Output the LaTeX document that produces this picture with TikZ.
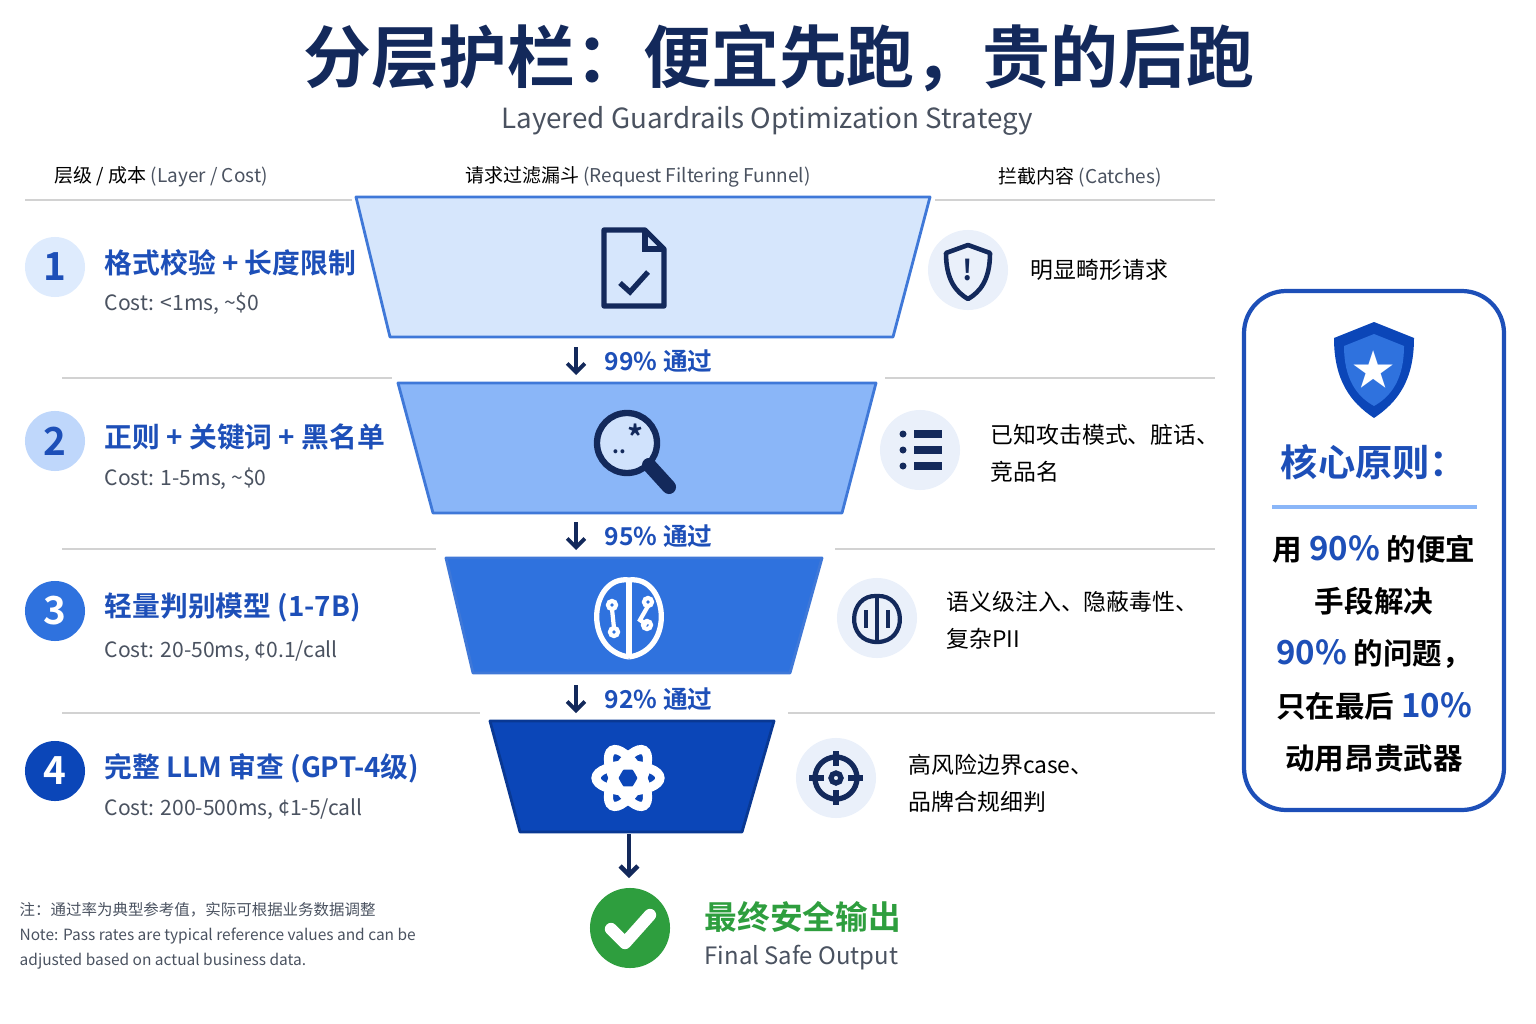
\documentclass[tikz,border=0pt]{standalone}
\usepackage{fontspec}
\setmainfont{Noto Sans CJK SC}[BoldFont={Noto Sans CJK SC Bold}]
\usetikzlibrary{arrows.meta,positioning}
\definecolor{navy}{HTML}{13295B}
\definecolor{tblue}{HTML}{1D4FB8}
\definecolor{gtext}{HTML}{4A5260}
\definecolor{f1}{HTML}{D6E6FC}
\definecolor{f2}{HTML}{8AB6F8}
\definecolor{f3}{HTML}{2F72DE}
\definecolor{f4}{HTML}{0B46B8}
\definecolor{edge}{HTML}{3F78D8}
\definecolor{iconbg}{HTML}{EAF0FA}
\definecolor{okgreen}{HTML}{2E9E3E}
\tikzset{
  layertitle/.style={anchor=west, inner sep=0pt, font=\bfseries\fontsize{7.9}{10}\selectfont, text=tblue},
  costtext/.style={anchor=west, inner sep=0pt, font=\fontsize{6}{7}\selectfont, text=gtext},
  headtext/.style={inner sep=0pt, font=\fontsize{5.4}{6}\selectfont, text=black},
  catchtext/.style={anchor=west, inner sep=0pt, align=left, font=\fontsize{6.5}{10.5}\selectfont, text=black},
  passtext/.style={anchor=west, inner sep=0pt, font=\bfseries\fontsize{7}{8}\selectfont, text=tblue},
  numcirc/.style={circle, minimum size=0.6cm, inner sep=0pt, font=\bfseries\fontsize{11}{12}\selectfont},
  iconcirc/.style={circle, fill=iconbg, minimum size=0.8cm, inner sep=0pt},
  sepline/.style={draw=gray!35, line width=0.5pt},
  principle/.style={font=\bfseries\fontsize{8.4}{10}\selectfont, text=black},
  funnel/.style={draw=edge, line width=0.8pt, line join=round},
  downarrow/.style={-{Straight Barb[length=2.5pt,width=5pt]}, navy, line width=1.1pt}
}
\begin{document}
\begin{tikzpicture}[x=0.01cm,y=-0.01cm]
\useasboundingbox (0,0) rectangle (1536,1024);

% titles
\node[font=\bfseries\fontsize{19.3}{21}\selectfont, text=navy] (title) at (779,58) {分层护栏：便宜先跑，贵的后跑};
\node[font=\fontsize{7.9}{9}\selectfont, text=gtext] (subtitle) at (767,121) {Layered Guardrails Optimization Strategy};

% column headers
\node[headtext, anchor=west] (h1) at (54,177) {层级 / 成本 {\color{gtext}(Layer / Cost)}};
\node[headtext] (h2) at (638,177) {请求过滤漏斗 {\color{gtext}(Request Filtering Funnel)}};
\node[headtext] (h3) at (1080,177) {拦截内容 {\color{gtext}(Catches)}};

% separators
\draw[sepline] (25,200) -- (352,200);  \draw[sepline] (935,200) -- (1215,200);
\draw[sepline] (62,378) -- (392,378);  \draw[sepline] (885,378) -- (1215,378);
\draw[sepline] (62,549) -- (436,549);  \draw[sepline] (835,549) -- (1215,549);
\draw[sepline] (62,713) -- (480,713);  \draw[sepline] (788,713) -- (1215,713);

% funnel layers
\draw[funnel, fill=f1] (356,197) -- (930,197) -- (893,337) -- (390,337) -- cycle;
\draw[funnel, fill=f2] (398,383) -- (876,383) -- (842,513) -- (433,513) -- cycle;
\draw[funnel, fill=f3] (446,558) -- (822,558) -- (790,673) -- (473,673) -- cycle;
\draw[funnel, fill=f4, draw=f4!80!black] (490,721) -- (774,721) -- (742,832) -- (520,832) -- cycle;

% pass rates
\foreach \y/\p in {361/99, 536/95, 699/92}{
  \draw[downarrow] (576,\y-14) -- (576,\y+14);
  \node[passtext] at (604,\y) {\p\% 通过};
}

% layer icons
% 1: document with check
\draw[navy, line width=1.5pt, line join=round] (604,230) -- (645,230) -- (664,249) -- (664,306) -- (604,306) -- cycle;
\draw[navy, line width=1.5pt] (645,230) -- (645,249) -- (664,249);
\draw[navy, line width=1.5pt] (620,283) -- (630,292) -- (648,272);
% 2: magnifier
\draw[navy, line width=1.8pt, fill=white!60!f2] (627,443) circle (30);
\draw[navy, line width=4pt, line cap=round] (649,465) -- (669,487);
\node[navy, font=\bfseries\fontsize{9}{9}\selectfont] at (636,437) {*};
\node[navy, font=\bfseries\fontsize{6}{6}\selectfont] at (619,452) {..};
% 3: brain
\draw[white, line width=1.5pt] (629,580) -- (629,655);
\draw[white, line width=1.5pt] (629,580) .. controls (590,575) and (582,650) .. (629,657);
\draw[white, line width=1.5pt] (629,580) .. controls (668,575) and (676,650) .. (629,657);
\draw[white, line width=1.2pt] (612,605) circle (4) (648,602) circle (4) (647,625) circle (4) (614,632) circle (4);
\draw[white, line width=1.2pt] (612,609) -- (614,628) (648,606) -- (640,620) -- (647,625);
% 4: knot logo
\foreach \a in {0,60,120}{
  \draw[white, line width=2.6pt, rotate around={\a:(628,778)}] (628,778) ellipse (32 and 13);
}

% final output
\draw[downarrow, line width=1.3pt] (629,834) -- (629,878);
\node[circle, fill=okgreen, minimum size=0.8cm, inner sep=0pt] (ok) at (630,928) {};
\draw[white, line width=3.5pt, line cap=round, line join=round] (611,929) -- (625,943) -- (650,915);
\node[anchor=west, inner sep=0pt, font=\bfseries\fontsize{9.3}{10}\selectfont, text=okgreen] (okzh) at (704,917) {最终安全输出};
\node[anchor=west, inner sep=0pt, font=\fontsize{6.8}{8}\selectfont, text=gtext] (oken) at (704,958) {Final Safe Output};

% left layer labels
\node[numcirc, fill=f1!80, text=tblue] (n1) at (55,267) {1};
\node[numcirc, fill=f2!55, text=tblue] (n2) at (55,441) {2};
\node[numcirc, fill=f3, text=white] (n3) at (55,611) {3};
\node[numcirc, fill=f4, text=white] (n4) at (55,771) {4};
\node[layertitle] (t1) at (104,263) {格式校验 + 长度限制};
\node[costtext] (c1) at (104,304) {Cost: <1ms, \textasciitilde\$0};
\node[layertitle] (t2) at (104,437) {正则 + 关键词 + 黑名单};
\node[costtext] (c2) at (104,479) {Cost: 1-5ms, \textasciitilde\$0};
\node[layertitle] (t3) at (104,607) {轻量判别模型 (1-7B)};
\node[costtext] (c3) at (104,651) {Cost: 20-50ms, ¢0.1/call};
\node[layertitle] (t4) at (104,768) {完整 LLM 审查 (GPT-4级)};
\node[costtext] (c4) at (104,809) {Cost: 200-500ms, ¢1-5/call};

% right catch icons
\node[iconcirc] (i1) at (968,270) {};
\draw[navy, line width=1.3pt, line join=round] (968,245) -- (990,253) .. controls (990,280) and (980,292) .. (968,299) .. controls (956,292) and (946,280) .. (946,253) -- cycle;
\node[navy, font=\bfseries\fontsize{8}{8}\selectfont] at (968,270) {!};
\node[iconcirc] (i2) at (920,450) {};
\foreach \y in {434,450,466}{
  \fill[navy] (903,\y) circle (3.5);
  \draw[navy, line width=2pt] (914,\y) -- (942,\y);
}
\node[iconcirc] (i3) at (877,618) {};
\draw[navy, line width=1.2pt] (877,596) .. controls (848,594) and (845,642) .. (877,642);
\draw[navy, line width=1.2pt] (877,596) .. controls (906,594) and (909,642) .. (877,642);
\draw[navy, line width=1.2pt] (877,596) -- (877,642) (866,610) -- (866,628) (888,610) -- (888,628);
\node[iconcirc] (i4) at (836,778) {};
\draw[navy, line width=1.5pt] (836,778) circle (21) (836,778) circle (5);
\draw[navy, line width=1.5pt] (836,751) -- (836,766) (836,790) -- (836,805) (809,778) -- (824,778) (848,778) -- (863,778);

\node[catchtext] (k1) at (1030,270) {明显畸形请求};
\node[catchtext] (k2) at (990,453) {已知攻击模式、脏话、\\竞品名};
\node[catchtext] (k3) at (946,620) {语义级注入、隐蔽毒性、\\复杂PII};
\node[catchtext] (k4) at (908,783) {高风险边界case、\\品牌合规细判};

% principle box
\draw[tblue, line width=1.2pt, rounded corners=12pt, fill=white] (1244,291) rectangle (1504,810);
\fill[f4] (1374,322) -- (1414,338) .. controls (1414,380) and (1398,402) .. (1374,418) .. controls (1350,402) and (1334,380) .. (1334,338) -- cycle;
\fill[f3] (1374,334) -- (1404,346) .. controls (1404,378) and (1392,396) .. (1374,406) .. controls (1356,396) and (1344,378) .. (1344,346) -- cycle;
\node[white, font=\fontsize{12}{12}\selectfont] at (1374,370) {★};
\node[font=\bfseries\fontsize{10.6}{12}\selectfont, text=tblue] (ptitle) at (1374,462) {核心原则：};
\draw[f2, line width=1pt] (1272,507) -- (1477,507);
\node[principle] (p1) at (1374,549) {用 {\color{tblue}\fontsize{9.4}{10}\selectfont 90\%} 的便宜};
\node[principle] (p2) at (1374,601) {手段解决};
\node[principle] (p3) at (1374,654) {{\color{tblue}\fontsize{9.4}{10}\selectfont 90\%} 的问题，};
\node[principle] (p4) at (1374,706) {只在最后 {\color{tblue}\fontsize{9.4}{10}\selectfont 10\%}};
\node[principle] (p5) at (1374,758) {动用昂贵武器};

% note
\node[anchor=west, inner sep=0pt, align=left, font=\fontsize{4.4}{7.1}\selectfont, text=gtext] (note) at (19,936) {注：通过率为典型参考值，实际可根据业务数据调整\\Note: Pass rates are typical reference values and can be\\adjusted based on actual business data.};
\end{tikzpicture}
\end{document}
